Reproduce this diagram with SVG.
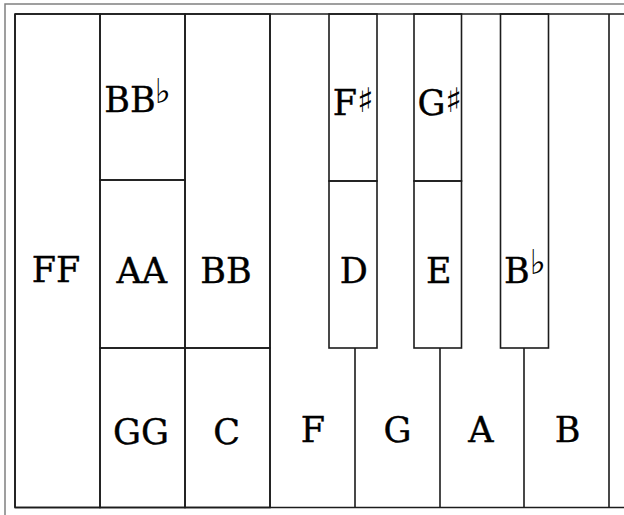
<svg xmlns="http://www.w3.org/2000/svg" width="624" height="515" viewBox="0 0 624 515">
<style>
.ln{fill:none;stroke:#1c1c1c;stroke-width:1.6}
.cell{fill:none;stroke:#1c1c1c;stroke-width:1.6}
.lb{font-family:"DejaVu Serif","Liberation Serif",serif;font-size:35px;fill:#000;stroke:#000;stroke-width:0.4;text-anchor:middle}
.acc{font-family:"DejaVu Sans",sans-serif;font-size:34px;fill:#000;stroke-width:0}
</style>
<rect width="624" height="515" fill="#fff"/>
<path d="M5,515 V4 H624" fill="none" stroke="#808080" stroke-width="1.5"/>
<g id="frame">
<path class="ln" d="M15,14 H624 M15,507.5 H624 M15,14 V507.5 M609,14 V507.5 M270,14 V507.5 M355,348 V507.5 M440,348 V507.5 M524,348 V507.5"/>
</g>
<g id="key-FF"><rect class="cell" x="15" y="14" width="85" height="493.5"/><text class="lb" x="56" y="281.5">FF</text></g>
<g id="key-BBflat"><rect class="cell" x="100" y="14" width="85" height="166"/><text class="lb" x="137.5" y="112">BB<tspan class="acc" dx="-1" dy="-9">♭</tspan></text></g>
<g id="key-AA"><rect class="cell" x="100" y="180" width="85" height="168"/><text class="lb" x="141.7" y="283">AA</text></g>
<g id="key-GG"><rect class="cell" x="100" y="348" width="85" height="159.5"/><text class="lb" x="141" y="444">GG</text></g>
<g id="key-BB"><rect class="cell" x="185" y="14" width="85" height="334"/><text class="lb" x="226" y="283">BB</text></g>
<g id="key-C"><rect class="cell" x="185" y="348" width="85" height="159.5"/><text class="lb" x="226.7" y="444">C</text></g>
<g id="key-Fsharp"><rect class="cell" x="329" y="14" width="48" height="167"/><text class="lb" x="353" y="115">F<tspan class="acc" dy="-3">♯</tspan></text></g>
<g id="key-D"><rect class="cell" x="329" y="181" width="48" height="167"/><text class="lb" x="353.7" y="283">D</text></g>
<g id="key-Gsharp"><rect class="cell" x="414" y="14" width="47.5" height="167"/><text class="lb" x="439.6" y="115">G<tspan class="acc" dy="-3">♯</tspan></text></g>
<g id="key-E"><rect class="cell" x="414" y="181" width="47.5" height="167"/><text class="lb" x="438.7" y="283">E</text></g>
<g id="key-Bflat"><rect class="cell" x="500.5" y="14" width="48" height="334"/><text class="lb" x="525" y="283">B<tspan class="acc" dy="-9">♭</tspan></text></g>
<g id="key-F"><text class="lb" x="313" y="442">F</text></g>
<g id="key-G"><text class="lb" x="397.5" y="442">G</text></g>
<g id="key-A"><text class="lb" x="481" y="442">A</text></g>
<g id="key-B"><text class="lb" x="567.5" y="442">B</text></g>
</svg>
